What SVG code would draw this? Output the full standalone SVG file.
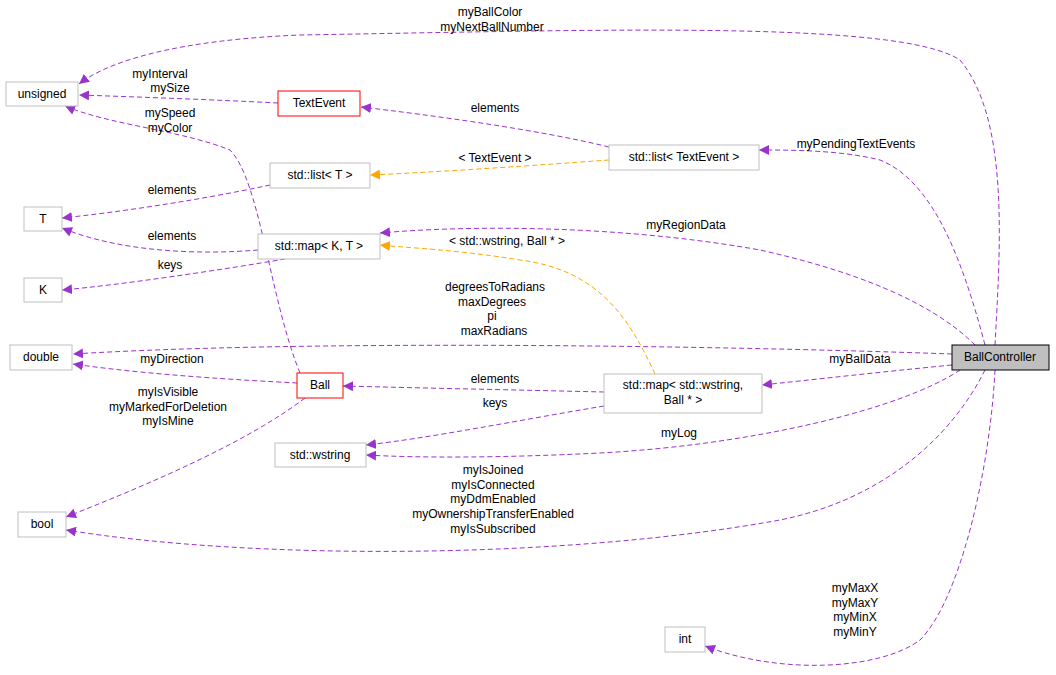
<svg xmlns="http://www.w3.org/2000/svg" width="1056" height="675" viewBox="0 0 1056 675">
<style>
text{font-family:"Liberation Sans",Arial,sans-serif;font-size:12px;fill:#000;text-anchor:middle}
.n{fill:#fff;stroke:#bfbfbf;stroke-width:1}
.r{fill:#fff;stroke:#ff0000;stroke-width:1}
.e{fill:none;stroke:#9a32cd;stroke-width:1;stroke-dasharray:5,3}
.o{fill:none;stroke:#ffa500;stroke-width:1;stroke-dasharray:5,3}
</style>
<defs>
<marker id="p" viewBox="0 0 10 10" refX="10" refY="5" markerWidth="10" markerHeight="10" markerUnits="userSpaceOnUse" orient="auto"><path d="M0,0L10,5L0,10z" fill="#9a32cd"/></marker>
<marker id="a" viewBox="0 0 10 10" refX="10" refY="5" markerWidth="10" markerHeight="10" markerUnits="userSpaceOnUse" orient="auto"><path d="M0,0L10,5L0,10z" fill="#ffa500"/></marker>
</defs>
<rect width="1056" height="675" fill="#fff"/>
<g id="edges">
<path class="e" marker-end="url(#p)" d="M995,345C1000,250 1010,120 960,60C900,20 600,30 300,35C180,40 110,60 79,84"/>
<text x="490" y="16">myBallColor</text><text x="492" y="31">myNextBallNumber</text>
<path class="e" marker-end="url(#p)" d="M278,103C220,100 140,97 79,95"/>
<text x="160" y="78">myInterval</text><text x="170" y="92">mySize</text>
<path class="e" marker-end="url(#p)" d="M609,147C540,130 430,115 361,107"/>
<text x="495" y="112">elements</text>
<path class="e" marker-end="url(#p)" d="M985,345C960,250 930,180 880,160C840,150 790,150 759,150"/>
<text x="856" y="148">myPendingTextEvents</text>
<path class="o" marker-end="url(#a)" d="M609,160C540,165 440,172 370,175"/>
<text x="495" y="162">&lt; TextEvent &gt;</text>
<path class="e" marker-end="url(#p)" d="M270,185C200,200 120,212 62,218"/>
<text x="172" y="194">elements</text>
<path class="e" marker-end="url(#p)" d="M258,250C200,255 120,252 62,228"/>
<text x="172" y="240">elements</text>
<path class="e" marker-end="url(#p)" d="M285,259C220,270 120,285 62,290"/>
<text x="170" y="269">keys</text>
<path class="e" marker-end="url(#p)" d="M975,345C930,300 850,270 760,250C620,225 470,225 380,233"/>
<text x="686" y="229">myRegionData</text>
<path class="o" marker-end="url(#a)" d="M655,374C630,320 600,270 520,260C460,250 410,248 380,245"/>
<text x="507" y="245">&lt; std::wstring, Ball * &gt;</text>
<path class="e" marker-end="url(#p)" d="M300,373C270,300 260,180 230,150C180,130 110,125 65,106"/>
<text x="170" y="117">mySpeed</text><text x="170" y="132">myColor</text>
<path class="e" marker-end="url(#p)" d="M952,354C700,345 300,340 73,354"/>
<text x="495" y="291">degreesToRadians</text><text x="492" y="306">maxDegrees</text><text x="492" y="320">pi</text><text x="494" y="335">maxRadians</text>
<path class="e" marker-end="url(#p)" d="M297,383C240,380 150,375 73,364"/>
<text x="172" y="363">myDirection</text>
<path class="e" marker-end="url(#p)" d="M952,365C880,372 810,380 762,385"/>
<text x="860" y="363">myBallData</text>
<path class="e" marker-end="url(#p)" d="M604,392C520,390 420,388 343,386"/>
<text x="495" y="383">elements</text>
<path class="e" marker-end="url(#p)" d="M604,406C520,420 430,438 366,445"/>
<text x="495" y="407">keys</text>
<path class="e" marker-end="url(#p)" d="M960,370C900,410 750,445 600,453C500,458 420,458 366,455"/>
<text x="679" y="437">myLog</text>
<path class="e" marker-end="url(#p)" d="M305,398C250,440 160,480 66,517"/>
<text x="168" y="396">myIsVisible</text><text x="168" y="411">myMarkedForDeletion</text><text x="168" y="425">myIsMine</text>
<path class="e" marker-end="url(#p)" d="M985,370C950,440 880,500 780,520C560,560 250,560 66,530"/>
<text x="493" y="474">myIsJoined</text><text x="493" y="489">myIsConnected</text><text x="493" y="503">myDdmEnabled</text><text x="493" y="518">myOwnershipTransferEnabled</text><text x="493" y="533">myIsSubscribed</text>
<path class="e" marker-end="url(#p)" d="M995,370C990,470 960,600 920,640C880,670 780,675 705,646"/>
<text x="855" y="592">myMaxX</text><text x="855" y="607">myMaxY</text><text x="855" y="621">myMinX</text><text x="855" y="636">myMinY</text>
</g>
<g id="unsigned"><rect class="n" x="6" y="82" width="72" height="24"/><text x="42" y="98">unsigned</text></g>
<g id="TextEvent"><rect class="r" x="278" y="91" width="82" height="25"/><text x="319" y="107">TextEvent</text></g>
<g id="listTextEvent"><rect class="n" x="609" y="145" width="150" height="25"/><text x="684" y="161">std::list&lt; TextEvent &gt;</text></g>
<g id="listT"><rect class="n" x="270" y="163" width="100" height="25"/><text x="320" y="179">std::list&lt; T &gt;</text></g>
<g id="T"><rect class="n" x="24" y="207" width="38" height="24"/><text x="43" y="223">T</text></g>
<g id="mapKT"><rect class="n" x="258" y="234" width="122" height="25"/><text x="319" y="250">std::map&lt; K, T &gt;</text></g>
<g id="K"><rect class="n" x="24" y="278" width="38" height="24"/><text x="43" y="294">K</text></g>
<g id="double"><rect class="n" x="10" y="345" width="62" height="25"/><text x="41" y="361">double</text></g>
<g id="BallController"><rect x="952" y="345" width="97" height="25" fill="#bfbfbf" stroke="#000"/><text x="1000" y="361">BallController</text></g>
<g id="Ball"><rect class="r" x="297" y="373" width="46" height="25"/><text x="320" y="389">Ball</text></g>
<g id="mapWBall"><rect class="n" x="604" y="374" width="158" height="39"/><text x="683" y="389">std::map&lt; std::wstring,</text><text x="683" y="404">Ball * &gt;</text></g>
<g id="wstring"><rect class="n" x="275" y="443" width="91" height="24"/><text x="320" y="459">std::wstring</text></g>
<g id="bool"><rect class="n" x="18" y="512" width="48" height="25"/><text x="42" y="528">bool</text></g>
<g id="int"><rect class="n" x="665" y="627" width="40" height="25"/><text x="685" y="643">int</text></g>
</svg>
